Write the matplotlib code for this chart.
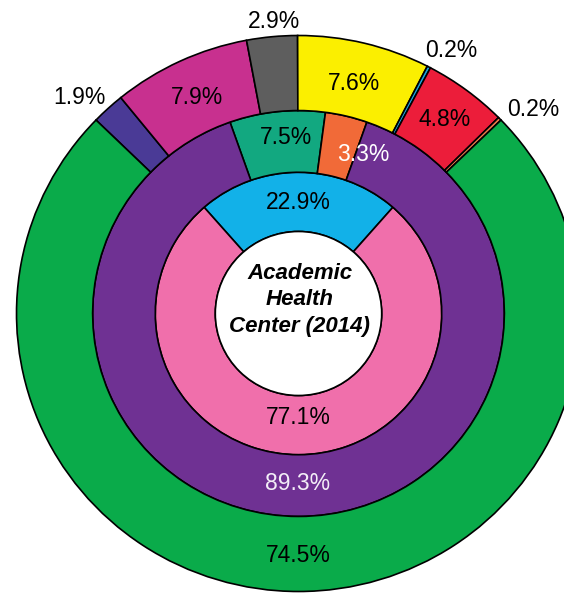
import numpy as np
import matplotlib
matplotlib.use("Agg")
import matplotlib.pyplot as plt

plt.rcParams['font.family'] = ['Liberation Sans', 'DejaVu Sans']

# ---- data ----
inner_labels = ["Blue", "Pink"]
inner_values = [22.9, 77.1]
inner_colors = ["#12b1e8", "#f06fab"]

middle_labels = ["Teal", "Orange", "Purple"]
middle_values = [7.5, 3.3, 89.3]
middle_colors = ["#12a880", "#f16a38", "#6f3193"]

outer_labels = ["Navy", "Magenta", "Gray", "Yellow", "Cyan", "Red", "Orange", "Green"]
outer_values = [1.9, 7.9, 2.9, 7.6, 0.2, 4.8, 0.2, 74.5]
outer_colors = ["#4a3a96", "#c8308f", "#5e5e5e", "#fbef00", "#1aa6e0",
                "#ec1d3a", "#f07a4c", "#0aab4a"]

center_title = "Academic\nHealth\nCenter (2014)"

# ---- layout ----
W, H = 564, 594
fig = plt.figure(figsize=(W / 100, H / 100), dpi=100)
ax = fig.add_axes([0, 0, 1, 1])

cx_px, cy_px = 298.5, 313.5
sx, sy = 282.0, 278.0  # px per unit

R_white, R_inner, R_mid, R_outer = 0.295, 0.508, 0.73, 1.0
edge = dict(edgecolor="black", linewidth=1.2)


def ring(values, colors, r_out, r_in):
    small = sum(values[:-1])
    start = 90 + 360 * small / 200.0
    wedges, _ = ax.pie(values, colors=colors, radius=r_out, startangle=start,
                       counterclock=False, wedgeprops=dict(width=r_out - r_in, **edge))
    return wedges, start


iw, istart = ring(inner_values, inner_colors, R_inner, R_white)
mw, mstart = ring(middle_values, middle_colors, R_mid, R_inner)
ow, ostart = ring(outer_values, outer_colors, R_outer, R_mid)
ax.add_patch(plt.Circle((0, 0), R_white, facecolor="white", **edge))

ax.set_aspect("auto")
ax.set_xlim(-cx_px / sx, (W - cx_px) / sx)
ax.set_ylim(-(H - cy_px) / sy, cy_px / sy)
ax.axis("off")


def mid_angles(values, start):
    ang = []
    a = start
    for v in values:
        span = 360 * v / 100.0
        ang.append(a - span / 2)
        a -= span
    return ang


def put(r, ang, txt, color="black", dang=0.0):
    t = np.deg2rad(ang + dang)
    ax.text(r * np.cos(t), r * np.sin(t), txt, ha="center", va="center",
            fontsize=16.5, color=color)


fmt = lambda v: f"{v:.1f}%"

ia = mid_angles(inner_values, istart)
put(0.40, ia[0], fmt(inner_values[0]))
put(0.375, ia[1], fmt(inner_values[1]))

ma = mid_angles(middle_values, mstart)
put(0.635, ma[0], fmt(middle_values[0]), dang=-2.0)
put(0.615, ma[1], fmt(middle_values[1]), color="white", dang=-8.5)
put(0.61, ma[2], fmt(middle_values[2]), color="#f3eef7")

oa = mid_angles(outer_values, ostart)
inside = {1: 0.855, 3: 0.85, 5: 0.87, 7: 0.87}
outside = {0: (1.10, 2.5), 2: (1.055, -0.6), 4: (1.09, -2.3), 6: (1.11, -3.0)}
for i, v in enumerate(outer_values):
    if i in inside:
        put(inside[i], oa[i], fmt(v))
    else:
        r, d = outside[i]
        put(r, oa[i], fmt(v), dang=d)

ax.text(0.005, 0.05, center_title, ha="center", va="center", fontsize=16,
        fontweight="bold", fontstyle="italic", linespacing=1.35)

fig.savefig("out.png", dpi=100)
